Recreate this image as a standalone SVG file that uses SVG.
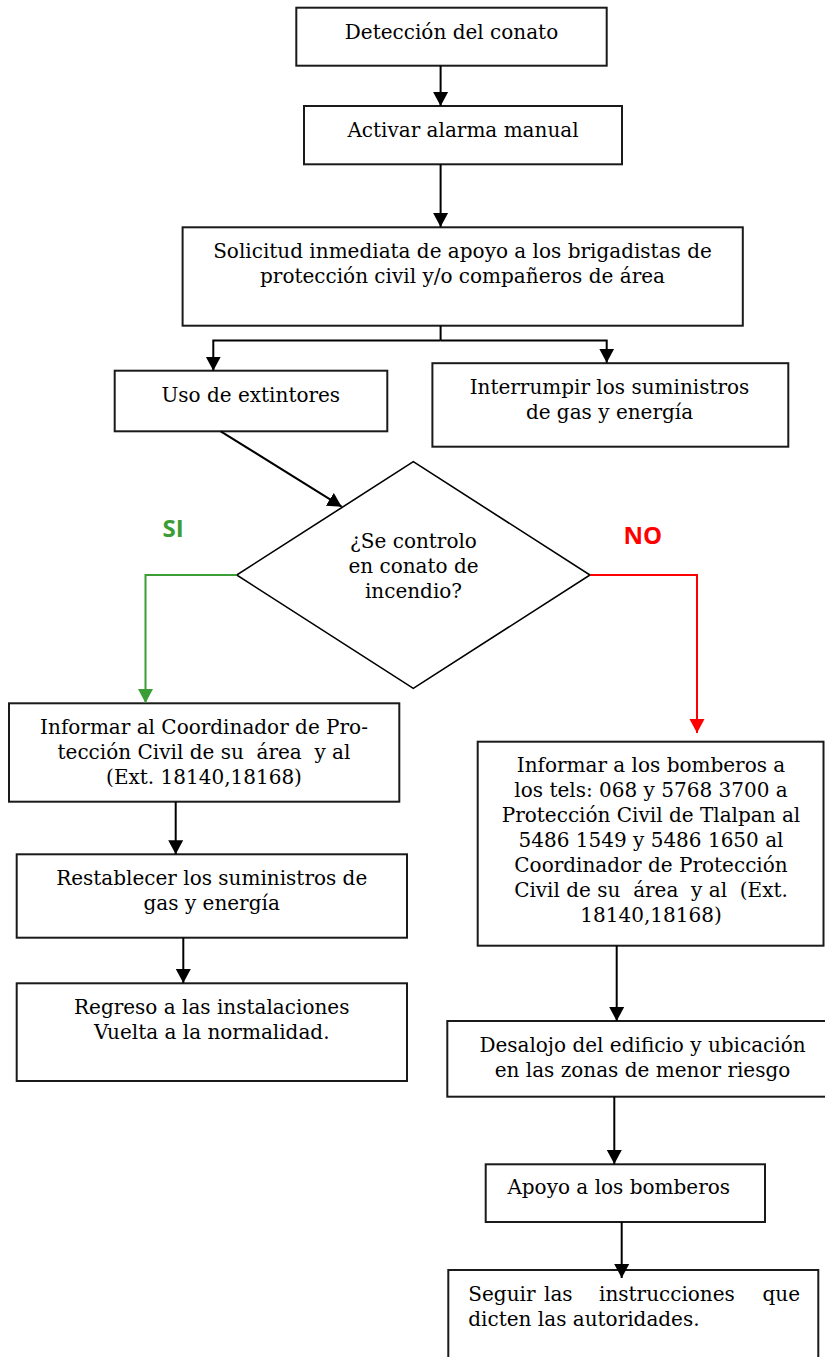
<svg xmlns="http://www.w3.org/2000/svg" width="825" height="1357" viewBox="0 0 825 1357">
<style>
.box{fill:#fff;stroke:#1a1a1a;stroke-width:2}
.dia{fill:#fff;stroke:#000;stroke-width:1.6}
.t{font-family:"DejaVu Serif","Liberation Serif",serif;font-size:20px;fill:#000;text-anchor:middle}
.tl{text-anchor:start}
.lbl{font-family:"Open Sans","Liberation Sans",sans-serif;font-weight:bold;font-size:24px}
.c{fill:none;stroke:#000;stroke-width:2}
.g{fill:none;stroke:#3a9d35;stroke-width:2}
.r{fill:none;stroke:#ff0000;stroke-width:2}
</style>
<defs>
<marker id="ah" markerUnits="userSpaceOnUse" markerWidth="16" markerHeight="16" refX="14" refY="8" orient="auto"><path d="M0,0.5 L14,8 L0,15.5 Z" fill="#000"/></marker>
<marker id="ahg" markerUnits="userSpaceOnUse" markerWidth="16" markerHeight="16" refX="14" refY="8" orient="auto"><path d="M0,0.5 L14,8 L0,15.5 Z" fill="#3a9d35"/></marker>
<marker id="ahr" markerUnits="userSpaceOnUse" markerWidth="16" markerHeight="16" refX="14" refY="8" orient="auto"><path d="M0,0.5 L14,8 L0,15.5 Z" fill="#ff0000"/></marker>
</defs>

<g id="n1">
<rect class="box" x="296.3" y="7.7" width="310.4" height="58"/>
<text class="t" x="451.5" y="39.3">Detección del conato</text>
</g>
<g id="n2">
<rect class="box" x="304" y="106" width="318" height="58.3"/>
<text class="t" x="463" y="137">Activar alarma manual</text>
</g>
<g id="n3">
<rect class="box" x="182.6" y="227.3" width="560.2" height="98.4"/>
<text class="t" x="462.5" y="258.3">Solicitud inmediata de apoyo a los brigadistas de</text>
<text class="t" x="462.5" y="283.3">protección civil y/o compañeros de área</text>
</g>
<g id="n4">
<rect class="box" x="114.7" y="370.7" width="272.6" height="60.6"/>
<text class="t" x="250.8" y="401.7">Uso de extintores</text>
</g>
<g id="n5">
<rect class="box" x="432.4" y="363.2" width="355.9" height="83.5"/>
<text class="t" x="609.5" y="393.8">Interrumpir los suministros</text>
<text class="t" x="609.5" y="418.5">de gas y energía</text>
</g>
<g id="n6">
<polygon class="dia" points="413.3,461.7 590,575 413.3,688.3 236.7,575"/>
<text class="t" x="413.5" y="548.3">¿Se controlo</text>
<text class="t" x="413.5" y="572.7">en conato de</text>
<text class="t" x="413.5" y="598">incendio?</text>
</g>
<g id="lbl-si">
<text class="lbl" x="162.5" y="536.7" fill="#3a9d35">SI</text>
</g>
<g id="lbl-no">
<text class="lbl" x="623.5" y="544" fill="#ff0000">NO</text>
</g>
<g id="n7">
<rect class="box" x="9" y="703.3" width="390.3" height="98.4"/>
<text class="t" x="204" y="734.3">Informar al Coordinador de Pro-</text>
<text class="t" x="204" y="759.3" xml:space="preserve">tección Civil de su  área  y al</text>
<text class="t" x="204" y="784.3">(Ext. 18140,18168)</text>
</g>
<g id="n8">
<rect class="box" x="16.7" y="854.3" width="390.3" height="83.4"/>
<text class="t" x="211.7" y="885">Restablecer los suministros de</text>
<text class="t" x="211.7" y="910">gas y energía</text>
</g>
<g id="n9">
<rect class="box" x="16.7" y="983.3" width="390.3" height="97.7"/>
<text class="t" x="211.7" y="1014">Regreso a las instalaciones</text>
<text class="t" x="211.7" y="1039">Vuelta a la normalidad.</text>
</g>
<g id="n10">
<rect class="box" x="477.7" y="741.7" width="345.8" height="204"/>
<text class="t" x="651" y="772">Informar a los bomberos a</text>
<text class="t" x="651" y="797">los tels: 068 y 5768 3700 a</text>
<text class="t" x="651" y="822">Protección Civil de Tlalpan al</text>
<text class="t" x="651" y="847">5486 1549 y 5486 1650 al</text>
<text class="t" x="651" y="872">Coordinador de Protección</text>
<text class="t" x="651" y="897" xml:space="preserve">Civil de su  área  y al  (Ext.</text>
<text class="t" x="651" y="922">18140,18168)</text>
</g>
<g id="n11">
<rect class="box" x="447.3" y="1021" width="380" height="75.7"/>
<text class="t" x="642.5" y="1052.3">Desalojo del edificio y ubicación</text>
<text class="t" x="642.5" y="1077.3">en las zonas de menor riesgo</text>
</g>
<g id="n12">
<rect class="box" x="485.7" y="1164.3" width="279.3" height="57.7"/>
<text class="t" x="618.7" y="1194.3">Apoyo a los bomberos</text>
</g>
<g id="n13">
<rect class="box" x="448.3" y="1270" width="370" height="120"/>
<text class="t tl" y="1300.7"><tspan x="468.3">Seguir</tspan><tspan x="544">las</tspan><tspan x="599">instrucciones</tspan><tspan x="800" text-anchor="end">que</tspan></text>
<text class="t tl" x="468.3" y="1326">dicten las autoridades.</text>
</g>

<g id="connectors">
<path class="c" d="M440.6,65.7 V106" marker-end="url(#ah)"/>
<path class="c" d="M440.6,164.3 V227" marker-end="url(#ah)"/>
<path class="c" d="M440.6,325.7 V340.5"/>
<path class="c" d="M440.6,340.5 H213.3 V370.7" marker-end="url(#ah)"/>
<path class="c" d="M440.6,340.5 H606.7 V362.7" marker-end="url(#ah)"/>
<path class="c" d="M220.7,431.3 L341.7,506.7" marker-end="url(#ah)"/>
<path class="g" d="M236.7,575 H145.5 V703" marker-end="url(#ahg)"/>
<path class="r" d="M590,575 H697 V733" marker-end="url(#ahr)"/>
<path class="c" d="M175.7,801.7 V854.3" marker-end="url(#ah)"/>
<path class="c" d="M183.3,937.7 V983" marker-end="url(#ah)"/>
<path class="c" d="M616.7,945.7 V1021" marker-end="url(#ah)"/>
<path class="c" d="M614.3,1096.7 V1164" marker-end="url(#ah)"/>
<path class="c" d="M621.7,1222 V1278" marker-end="url(#ah)"/>
</g>
</svg>
